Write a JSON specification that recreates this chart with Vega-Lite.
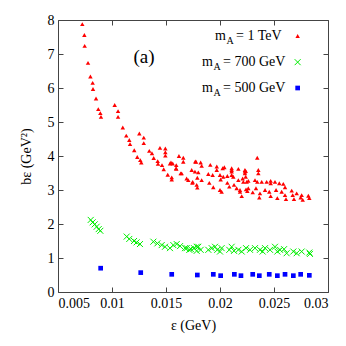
{
  "$schema": "https://vega.github.io/schema/vega-lite/v6.json",
  "width": 270,
  "height": 272,
  "autosize": {"type": "none"},
  "padding": {"left": 58, "top": 20, "right": 18, "bottom": 54},
  "background": "white",
  "config": {
    "view": {"stroke": "#444", "strokeWidth": 1},
    "font": "Liberation Serif, Times New Roman, serif",
    "text": {"font": "Liberation Serif, Times New Roman, serif"},
    "axis": {
      "domain": false,
      "grid": false,
      "tickColor": "#444",
      "tickSize": -5,
      "labelFont": "Liberation Serif, Times New Roman, serif",
      "labelFontSize": 14,
      "labelColor": "#000",
      "titleFont": "Liberation Serif, Times New Roman, serif",
      "titleFontSize": 14,
      "titleFontWeight": "normal",
      "titleColor": "#000"
    }
  },
  "resolve": {"axis": {"x": "independent", "y": "independent"}},
  "datasets": {
    "red": [
      {"e":0.00725,"b":7.88},{"e":0.00744,"b":7.56},{"e":0.00747,"b":7.24},{"e":0.00778,"b":6.74},{"e":0.0080,"b":6.34},{"e":0.00821,"b":6.15},{"e":0.00824,"b":5.97},{"e":0.00852,"b":5.69},{"e":0.00873,"b":5.38},{"e":0.00892,"b":5.26},{"e":0.00898,"b":5.15},{"e":0.01025,"b":5.50},{"e":0.01056,"b":5.32},{"e":0.01056,"b":5.15},{"e":0.0110,"b":4.84},{"e":0.01132,"b":4.60},{"e":0.0116,"b":4.47},{"e":0.01167,"b":4.35},{"e":0.01206,"b":4.17},{"e":0.01253,"b":4.66},{"e":0.01294,"b":4.54},{"e":0.01294,"b":4.38},{"e":0.01234,"b":3.97},{"e":0.01262,"b":3.88},{"e":0.01271,"b":3.81},{"e":0.01345,"b":4.15},{"e":0.0137,"b":4.08},{"e":0.01386,"b":3.94},{"e":0.01444,"b":4.24},{"e":0.01494,"b":4.22},{"e":0.01494,"b":4.11},{"e":0.01494,"b":4.01},{"e":0.01423,"b":3.85},{"e":0.01426,"b":3.77},{"e":0.01463,"b":3.73},{"e":0.01479,"b":3.61},{"e":0.01546,"b":3.81},{"e":0.01562,"b":3.78},{"e":0.01595,"b":3.73},{"e":0.01595,"b":3.62},{"e":0.01516,"b":3.45},{"e":0.01553,"b":3.37},{"e":0.01553,"b":3.31},{"e":0.0162,"b":4.0},{"e":0.0166,"b":3.95},{"e":0.0166,"b":3.83},{"e":0.01771,"b":3.84},{"e":0.01821,"b":3.81},{"e":0.0183,"b":3.71},{"e":0.0191,"b":3.74},{"e":0.0197,"b":3.69},{"e":0.0197,"b":3.59},{"e":0.0204,"b":3.67},{"e":0.02108,"b":3.64},{"e":0.02108,"b":3.54},{"e":0.02108,"b":3.44},{"e":0.0217,"b":3.62},{"e":0.02238,"b":3.56},{"e":0.02238,"b":3.39},{"e":0.01593,"b":3.64},{"e":0.01645,"b":3.49},{"e":0.01691,"b":3.34},{"e":0.01738,"b":3.59},{"e":0.01768,"b":3.54},{"e":0.01799,"b":3.52},{"e":0.0179,"b":3.36},{"e":0.01706,"b":3.29},{"e":0.01744,"b":3.21},{"e":0.0183,"b":3.29},{"e":0.01784,"b":3.15},{"e":0.0179,"b":3.07},{"e":0.01892,"b":3.47},{"e":0.01901,"b":3.21},{"e":0.01932,"b":3.44},{"e":0.01938,"b":3.08},{"e":0.02,"b":3.44},{"e":0.02006,"b":3.31},{"e":0.02,"b":3.0},{"e":0.02015,"b":2.95},{"e":0.0203,"b":3.39},{"e":0.02068,"b":3.41},{"e":0.02068,"b":3.21},{"e":0.02086,"b":3.1},{"e":0.02123,"b":3.39},{"e":0.0213,"b":3.15},{"e":0.02154,"b":3.05},{"e":0.02185,"b":2.95},{"e":0.02201,"b":2.82},{"e":0.0217,"b":3.29},{"e":0.02216,"b":3.24},{"e":0.02247,"b":3.24},{"e":0.02262,"b":3.05},{"e":0.02253,"b":2.97},{"e":0.02345,"b":3.95},{"e":0.02231,"b":3.59},{"e":0.02231,"b":3.49},{"e":0.02355,"b":3.59},{"e":0.02355,"b":3.49},{"e":0.0221,"b":3.34},{"e":0.02262,"b":3.27},{"e":0.02324,"b":3.29},{"e":0.02345,"b":3.24},{"e":0.02386,"b":3.24},{"e":0.02432,"b":3.24},{"e":0.02469,"b":3.27},{"e":0.02469,"b":3.2},{"e":0.02509,"b":3.24},{"e":0.02549,"b":3.2},{"e":0.02586,"b":3.18},{"e":0.02602,"b":3.08},{"e":0.02664,"b":2.98},{"e":0.0271,"b":2.9},{"e":0.02756,"b":2.85},{"e":0.02818,"b":2.83},{"e":0.02827,"b":2.76},{"e":0.02185,"b":3.0},{"e":0.02241,"b":3.02},{"e":0.02303,"b":2.93},{"e":0.02333,"b":3.05},{"e":0.02364,"b":2.78},{"e":0.0237,"b":2.9},{"e":0.02417,"b":3.0},{"e":0.02456,"b":2.95},{"e":0.02469,"b":2.82},{"e":0.02519,"b":3.0},{"e":0.02531,"b":2.76},{"e":0.02571,"b":2.95},{"e":0.02602,"b":2.85},{"e":0.02611,"b":2.73},{"e":0.02673,"b":2.85},{"e":0.02685,"b":2.73},{"e":0.02747,"b":2.78},{"e":0.02766,"b":2.71},{"e":0.01778,"b":3.83},{"e":0.01636,"b":3.49},{"e":0.01747,"b":3.24},{"e":0.01537,"b":3.78},{"e":0.02025,"b":3.64},{"e":0.02108,"b":3.59},{"e":0.02231,"b":3.54}
    ],
    "green": [
      {"e":0.00803,"b":2.12},{"e":0.00821,"b":2.05},{"e":0.0084,"b":1.99},{"e":0.00858,"b":1.92},{"e":0.00877,"b":1.85},{"e":0.00892,"b":1.80},{"e":0.01136,"b":1.63},{"e":0.0116,"b":1.56},{"e":0.01204,"b":1.50},{"e":0.01228,"b":1.46},{"e":0.01259,"b":1.41},{"e":0.01383,"b":1.48},{"e":0.0142,"b":1.43},{"e":0.0146,"b":1.38},{"e":0.01491,"b":1.33},{"e":0.01537,"b":1.29},{"e":0.01568,"b":1.38},{"e":0.01599,"b":1.41},{"e":0.0163,"b":1.35},{"e":0.01691,"b":1.29},{"e":0.01731,"b":1.26},{"e":0.01784,"b":1.33},{"e":0.01784,"b":1.21},{"e":0.01676,"b":1.29},{"e":0.01716,"b":1.24},{"e":0.01759,"b":1.29},{"e":0.01799,"b":1.33},{"e":0.01821,"b":1.24},{"e":0.01892,"b":1.24},{"e":0.01923,"b":1.29},{"e":0.01954,"b":1.33},{"e":0.01975,"b":1.24},{"e":0.02,"b":1.19},{"e":0.02015,"b":1.29},{"e":0.02086,"b":1.24},{"e":0.02108,"b":1.33},{"e":0.0213,"b":1.21},{"e":0.0217,"b":1.24},{"e":0.02201,"b":1.19},{"e":0.02241,"b":1.29},{"e":0.02278,"b":1.24},{"e":0.02324,"b":1.29},{"e":0.0237,"b":1.24},{"e":0.02395,"b":1.19},{"e":0.02417,"b":1.29},{"e":0.02463,"b":1.24},{"e":0.02509,"b":1.33},{"e":0.02531,"b":1.19},{"e":0.02556,"b":1.24},{"e":0.02593,"b":1.26},{"e":0.02617,"b":1.14},{"e":0.02679,"b":1.19},{"e":0.0271,"b":1.14},{"e":0.02756,"b":1.19},{"e":0.02827,"b":1.16},{"e":0.02833,"b":1.12}
    ],
    "blue": [
      {"e":0.00895,"b":0.70},{"e":0.01266,"b":0.57},{"e":0.01553,"b":0.52},{"e":0.0179,"b":0.50},{"e":0.01938,"b":0.52},{"e":0.02006,"b":0.48},{"e":0.02133,"b":0.52},{"e":0.02194,"b":0.48},{"e":0.02303,"b":0.52},{"e":0.02364,"b":0.48},{"e":0.02456,"b":0.52},{"e":0.02531,"b":0.48},{"e":0.02602,"b":0.52},{"e":0.02679,"b":0.48},{"e":0.02747,"b":0.52},{"e":0.02827,"b":0.49}
    ],
    "one": [{}]
  },
  "layer": [
    {
      "data": {"name": "red"},
      "mark": {"type": "point", "shape": "triangle-up", "filled": true, "size": 20, "color": "#ff0000", "opacity": 1},
      "encoding": {
        "x": {"field": "e", "type": "quantitative", "scale": {"domain": [0.005, 0.03], "nice": false, "zero": false},
              "axis": {"orient": "bottom", "values": [0.005, 0.01, 0.015, 0.02, 0.025, 0.03], "format": "~g", "title": "ε (GeV)", "labelPadding": 9, "titlePadding": 8}},
        "y": {"field": "b", "type": "quantitative", "scale": {"domain": [0, 8], "nice": false, "zero": true},
              "axis": {"orient": "left", "values": [0, 1, 2, 3, 4, 5, 6, 7, 8], "format": "d", "title": "bε (GeV²)", "labelPadding": 9, "titlePadding": 14}}
      }
    },
    {
      "data": {"name": "green"},
      "mark": {"type": "point", "shape": "M-1,-1L1,1M-1,1L1,-1", "filled": false, "size": 36, "stroke": "#00ee00", "strokeWidth": 1, "opacity": 1},
      "encoding": {
        "x": {"field": "e", "type": "quantitative", "scale": {"domain": [0.005, 0.03], "nice": false, "zero": false},
              "axis": {"orient": "top", "values": [0.005, 0.01, 0.015, 0.02, 0.025, 0.03], "labels": false, "title": null}},
        "y": {"field": "b", "type": "quantitative", "scale": {"domain": [0, 8], "nice": false, "zero": true},
              "axis": {"orient": "right", "values": [0, 1, 2, 3, 4, 5, 6, 7, 8], "labels": false, "title": null}}
      }
    },
    {
      "data": {"name": "blue"},
      "mark": {"type": "point", "shape": "square", "filled": true, "size": 22, "color": "#0000ff", "opacity": 1},
      "encoding": {
        "x": {"field": "e", "type": "quantitative", "scale": {"domain": [0.005, 0.03], "nice": false, "zero": false}, "axis": null},
        "y": {"field": "b", "type": "quantitative", "scale": {"domain": [0, 8], "nice": false, "zero": true}, "axis": null}
      }
    },
    {
      "data": {"name": "one"},
      "mark": {"type": "text", "text": "(a)", "fontSize": 19, "align": "center", "baseline": "middle", "color": "#000"},
      "encoding": {
        "x": {"datum": 0.01296, "type": "quantitative", "scale": {"domain": [0.005, 0.03], "nice": false, "zero": false}, "axis": null},
        "y": {"datum": 6.9, "type": "quantitative", "scale": {"domain": [0, 8], "nice": false, "zero": true}, "axis": null}
      }
    },
    {
      "data": {"name": "one"},
      "mark": {"type": "text", "text": "m", "fontSize": 14, "align": "right", "baseline": "middle", "color": "#000"},
      "encoding": {
        "x": {"datum": 0.020556, "type": "quantitative", "scale": {"domain": [0.005, 0.03], "nice": false, "zero": false}, "axis": null},
        "y": {"datum": 7.53, "type": "quantitative", "scale": {"domain": [0, 8], "nice": false, "zero": true}, "axis": null}
      }
    },
    {
      "data": {"name": "one"},
      "mark": {"type": "text", "text": "A", "fontSize": 10, "align": "left", "baseline": "middle", "dy": 5, "dx": 0.5, "color": "#000"},
      "encoding": {
        "x": {"datum": 0.020556, "type": "quantitative", "scale": {"domain": [0.005, 0.03], "nice": false, "zero": false}, "axis": null},
        "y": {"datum": 7.53, "type": "quantitative", "scale": {"domain": [0, 8], "nice": false, "zero": true}, "axis": null}
      }
    },
    {
      "data": {"name": "one"},
      "mark": {"type": "text", "text": "= 1 TeV", "fontSize": 14, "align": "left", "baseline": "middle", "color": "#000"},
      "encoding": {
        "x": {"datum": 0.021481, "type": "quantitative", "scale": {"domain": [0.005, 0.03], "nice": false, "zero": false}, "axis": null},
        "y": {"datum": 7.53, "type": "quantitative", "scale": {"domain": [0, 8], "nice": false, "zero": true}, "axis": null}
      }
    },
    {
      "data": {"name": "one"},
      "mark": {"type": "text", "text": "m", "fontSize": 14, "align": "right", "baseline": "middle", "color": "#000"},
      "encoding": {
        "x": {"datum": 0.019352, "type": "quantitative", "scale": {"domain": [0.005, 0.03], "nice": false, "zero": false}, "axis": null},
        "y": {"datum": 6.76, "type": "quantitative", "scale": {"domain": [0, 8], "nice": false, "zero": true}, "axis": null}
      }
    },
    {
      "data": {"name": "one"},
      "mark": {"type": "text", "text": "A", "fontSize": 10, "align": "left", "baseline": "middle", "dy": 5, "dx": 0.5, "color": "#000"},
      "encoding": {
        "x": {"datum": 0.019352, "type": "quantitative", "scale": {"domain": [0.005, 0.03], "nice": false, "zero": false}, "axis": null},
        "y": {"datum": 6.76, "type": "quantitative", "scale": {"domain": [0, 8], "nice": false, "zero": true}, "axis": null}
      }
    },
    {
      "data": {"name": "one"},
      "mark": {"type": "text", "text": "= 700 GeV", "fontSize": 14, "align": "left", "baseline": "middle", "color": "#000"},
      "encoding": {
        "x": {"datum": 0.020278, "type": "quantitative", "scale": {"domain": [0.005, 0.03], "nice": false, "zero": false}, "axis": null},
        "y": {"datum": 6.76, "type": "quantitative", "scale": {"domain": [0, 8], "nice": false, "zero": true}, "axis": null}
      }
    },
    {
      "data": {"name": "one"},
      "mark": {"type": "text", "text": "m", "fontSize": 14, "align": "right", "baseline": "middle", "color": "#000"},
      "encoding": {
        "x": {"datum": 0.019352, "type": "quantitative", "scale": {"domain": [0.005, 0.03], "nice": false, "zero": false}, "axis": null},
        "y": {"datum": 6.0, "type": "quantitative", "scale": {"domain": [0, 8], "nice": false, "zero": true}, "axis": null}
      }
    },
    {
      "data": {"name": "one"},
      "mark": {"type": "text", "text": "A", "fontSize": 10, "align": "left", "baseline": "middle", "dy": 5, "dx": 0.5, "color": "#000"},
      "encoding": {
        "x": {"datum": 0.019352, "type": "quantitative", "scale": {"domain": [0.005, 0.03], "nice": false, "zero": false}, "axis": null},
        "y": {"datum": 6.0, "type": "quantitative", "scale": {"domain": [0, 8], "nice": false, "zero": true}, "axis": null}
      }
    },
    {
      "data": {"name": "one"},
      "mark": {"type": "text", "text": "= 500 GeV", "fontSize": 14, "align": "left", "baseline": "middle", "color": "#000"},
      "encoding": {
        "x": {"datum": 0.020278, "type": "quantitative", "scale": {"domain": [0.005, 0.03], "nice": false, "zero": false}, "axis": null},
        "y": {"datum": 6.0, "type": "quantitative", "scale": {"domain": [0, 8], "nice": false, "zero": true}, "axis": null}
      }
    },
    {
      "data": {"name": "one"},
      "mark": {"type": "point", "shape": "triangle-up", "filled": true, "size": 20, "color": "#ff0000", "opacity": 1},
      "encoding": {
        "x": {"datum": 0.02719, "type": "quantitative", "scale": {"domain": [0.005, 0.03], "nice": false, "zero": false}, "axis": null},
        "y": {"datum": 7.53, "type": "quantitative", "scale": {"domain": [0, 8], "nice": false, "zero": true}, "axis": null}
      }
    },
    {
      "data": {"name": "one"},
      "mark": {"type": "point", "shape": "M-1,-1L1,1M-1,1L1,-1", "filled": false, "size": 36, "stroke": "#00ee00", "strokeWidth": 1, "opacity": 1},
      "encoding": {
        "x": {"datum": 0.02719, "type": "quantitative", "scale": {"domain": [0.005, 0.03], "nice": false, "zero": false}, "axis": null},
        "y": {"datum": 6.76, "type": "quantitative", "scale": {"domain": [0, 8], "nice": false, "zero": true}, "axis": null}
      }
    },
    {
      "data": {"name": "one"},
      "mark": {"type": "point", "shape": "square", "filled": true, "size": 22, "color": "#0000ff", "opacity": 1},
      "encoding": {
        "x": {"datum": 0.02719, "type": "quantitative", "scale": {"domain": [0.005, 0.03], "nice": false, "zero": false}, "axis": null},
        "y": {"datum": 6.0, "type": "quantitative", "scale": {"domain": [0, 8], "nice": false, "zero": true}, "axis": null}
      }
    }
  ]
}
